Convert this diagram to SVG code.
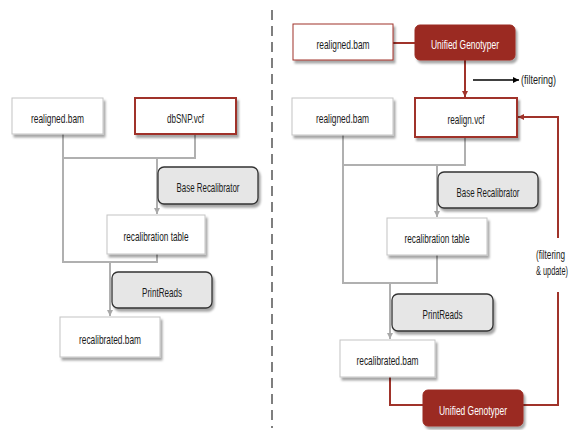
<svg xmlns="http://www.w3.org/2000/svg" width="569" height="430" viewBox="0 0 569 430">
<defs>
<filter id="sh" x="-10%" y="-10%" width="130%" height="140%">
<feDropShadow dx="2" dy="3" stdDeviation="1.2" flood-color="#000" flood-opacity="0.35"/>
</filter>
<marker id="ag" markerWidth="8" markerHeight="8" refX="6" refY="4" orient="auto" markerUnits="userSpaceOnUse">
<path d="M0,1 L6,4 L0,7 z" fill="#a8a8a8"/>
</marker>
<marker id="ar" markerWidth="8" markerHeight="8" refX="6" refY="4" orient="auto" markerUnits="userSpaceOnUse">
<path d="M0,1 L6,4 L0,7 z" fill="#a0332a"/>
</marker>
<marker id="ak" markerWidth="8" markerHeight="8" refX="6" refY="4" orient="auto" markerUnits="userSpaceOnUse">
<path d="M0,1 L6,4 L0,7 z" fill="#000"/>
</marker>
</defs>
<style>
text{font-family:"Liberation Sans",Arial,sans-serif;font-size:13px;fill:#1a1a1a;text-anchor:middle;dominant-baseline:central}
.plain{fill:#fff;stroke:#c4c4c4;stroke-width:1;filter:url(#sh)}
.redb{fill:#fff;stroke:#a0332a;stroke-width:2;filter:url(#sh)}
.tool{fill:#e6e6e6;stroke:#333;stroke-width:1.3;filter:url(#sh)}
.ug{fill:#9b2b21;stroke:#9b2b21;filter:url(#sh)}
.ugt{fill:#fff}
.g{fill:none;stroke:#b0b0b0;stroke-width:2}
.r{fill:none;stroke:#a0332a;stroke-width:2}
.k{fill:none;stroke:#000;stroke-width:1.3}
.lbl{font-size:12px;text-anchor:start}
</style>
<line x1="272" y1="10" x2="272" y2="428" stroke="#555" stroke-width="1.5" stroke-dasharray="10,6"/>
<g id="connectors">
<path class="g" d="M63,134 V262 H157 V254"/>
<path class="g" d="M195,134 V158 H63"/>
<path class="g" d="M157,158 V214" marker-end="url(#ag)"/>
<path class="g" d="M110,262 V316" marker-end="url(#ag)"/>
<path class="r" d="M393,43 H415"/>
<path class="r" d="M465,60 V97" marker-end="url(#ar)"/>
<path class="k" d="M473,80 H519" marker-end="url(#ak)"/>
<path class="g" d="M343,135 V283 H437 V255"/>
<path class="g" d="M465,137 V165 H343"/>
<path class="g" d="M437,165 V217" marker-end="url(#ag)"/>
<path class="g" d="M390,283 V339" marker-end="url(#ag)"/>
<path class="r" d="M390,377 V405 H423"/>
<path class="r" d="M523,405 H558 V292"/>
<path class="r" d="M558,238 V117 H518" marker-end="url(#ar)"/>
</g>
<g id="realigned_bam_l"><rect class="plain" x="12" y="98" width="91" height="36"/><text x="57.5" y="118" textLength="53" lengthAdjust="spacingAndGlyphs">realigned.bam</text></g>
<g id="dbsnp_vcf"><rect class="redb" x="135" y="98" width="101" height="36"/><text x="185.5" y="118" textLength="37" lengthAdjust="spacingAndGlyphs">dbSNP.vcf</text></g>
<g id="base_recal_l"><rect class="tool" x="158" y="167" width="100" height="37" rx="6"/><text x="208" y="187.5" textLength="63" lengthAdjust="spacingAndGlyphs">Base Recalibrator</text></g>
<g id="recal_table_l"><rect class="plain" x="107" y="215" width="98" height="39"/><text x="156" y="236.5" textLength="65" lengthAdjust="spacingAndGlyphs">recalibration table</text></g>
<g id="printreads_l"><rect class="tool" x="112" y="272" width="100" height="36" rx="6"/><text x="162" y="292" textLength="40" lengthAdjust="spacingAndGlyphs">PrintReads</text></g>
<g id="recal_bam_l"><rect class="plain" x="60" y="317" width="100" height="40"/><text x="110" y="339" textLength="62" lengthAdjust="spacingAndGlyphs">recalibrated.bam</text></g>
<g id="realigned_bam_top"><rect class="plain" x="293" y="24" width="100" height="36" style="stroke:#a0332a"/><text x="343" y="44" textLength="53" lengthAdjust="spacingAndGlyphs">realigned.bam</text></g>
<g id="ug_top"><rect class="ug" x="415" y="25" width="100" height="35" rx="5"/><text class="ugt" x="465" y="44.5" textLength="68" lengthAdjust="spacingAndGlyphs">Unified Genotyper</text></g>
<g id="filtering_lbl"><text class="lbl" x="521" y="80" textLength="35" lengthAdjust="spacingAndGlyphs">(filtering)</text></g>
<g id="realigned_bam_r"><rect class="plain" x="292" y="98" width="101" height="37"/><text x="342.5" y="118.5" textLength="53" lengthAdjust="spacingAndGlyphs">realigned.bam</text></g>
<g id="realign_vcf"><rect class="redb" x="415" y="98" width="102" height="39"/><text x="466" y="119.5" textLength="37" lengthAdjust="spacingAndGlyphs">realign.vcf</text></g>
<g id="base_recal_r"><rect class="tool" x="438" y="172" width="100" height="36" rx="6"/><text x="488" y="192" textLength="63" lengthAdjust="spacingAndGlyphs">Base Recalibrator</text></g>
<g id="recal_table_r"><rect class="plain" x="387" y="218" width="100" height="37"/><text x="437" y="238.5" textLength="65" lengthAdjust="spacingAndGlyphs">recalibration table</text></g>
<g id="printreads_r"><rect class="tool" x="392" y="294" width="101" height="37" rx="6"/><text x="442.5" y="314.5" textLength="40" lengthAdjust="spacingAndGlyphs">PrintReads</text></g>
<g id="recal_bam_r"><rect class="plain" x="340" y="340" width="95" height="37"/><text x="387.5" y="360.5" textLength="62" lengthAdjust="spacingAndGlyphs">recalibrated.bam</text></g>
<g id="ug_bottom"><rect class="ug" x="423" y="390" width="100" height="36" rx="5"/><text class="ugt" x="473" y="410" textLength="68" lengthAdjust="spacingAndGlyphs">Unified Genotyper</text></g>
<g id="filter_update_lbl"><text class="lbl" transform="translate(536,255) scale(0.68,1)" x="0" y="0">(filtering</text><text class="lbl" transform="translate(536,271) scale(0.615,1)" x="0" y="0">&amp; update)</text></g>
</svg>
